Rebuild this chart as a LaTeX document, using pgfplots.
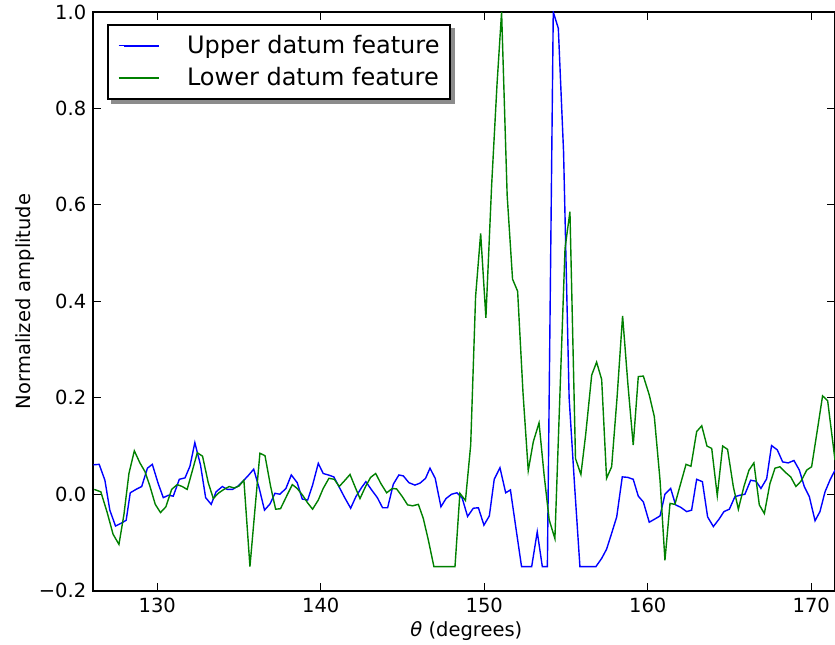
\documentclass[border=0pt]{standalone}
\usepackage{fontspec}
\setmainfont{DejaVu Sans}
\usepackage{pgfplots}
\pgfplotsset{compat=1.18}
\usetikzlibrary{backgrounds}
\definecolor{mplblue}{RGB}{0,0,255}
\definecolor{mplgreen}{RGB}{0,128,0}
\begin{document}
\begin{tikzpicture}
\begin{axis}[
  scale only axis,
  width=370.85pt, height=289.35pt,
  xmin=126.09, xmax=171.45,
  ymin=-0.2, ymax=1.0,
  xtick={130,140,150,160,170},
  xticklabels={130,140,150,160,170},
  ytick={-0.2,0,0.2,0.4,0.6,0.8,1.0},
  yticklabels={−0.2,0.0,0.2,0.4,0.6,0.8,1.0},
  tick align=inside,
  major tick length=3.85pt,
  every tick/.style={black, line width=0.5pt},
  axis line style={line width=1pt},
  tick label style={font=\fontsize{9.75}{11}\selectfont},
  label style={font=\fontsize{9.75}{11}\selectfont},
  xlabel={{\itshape θ} (degrees)},
  ylabel={Normalized amplitude},
  xlabel style={at={(axis description cs:0.503,-0.0693)},anchor=center},
  ylabel style={at={(axis description cs:-0.0917,0.5)},anchor=center},
  legend cell align=left,
  legend image code/.code={\path (0pt,0pt) -- (2.65pt,0pt); \draw[#1, line width=1pt, line cap=butt] (2.65pt,0pt) -- (20.35pt,0pt);},
  legend style={name=leg, at={(axis description cs:0.0185,0.979)}, anchor=north west,
    draw=black, line width=1pt, fill=white,
    font=\fontsize{12}{14}\selectfont,
    inner xsep=5pt, inner ysep=5pt, row sep=5.5pt, column sep=13.3pt,
    nodes={inner sep=0pt}},
]
\addplot[mplblue, line width=0.7pt] coordinates {
(126.09,0.061) (126.45,0.062) (126.80,0.029) (127.10,-0.033) (127.45,-0.066)
(127.80,-0.060) (128.10,-0.054) (128.35,0.003) (128.70,0.010) (129.05,0.016)
(129.40,0.054) (129.70,0.062) (130.06,0.022) (130.37,-0.007) (130.70,-0.002)
(130.98,-0.004) (131.35,0.031) (131.70,0.034) (132.00,0.058) (132.30,0.107)
(132.65,0.060) (132.96,-0.007) (133.30,-0.021) (133.60,0.005) (133.98,0.016)
(134.28,0.010) (134.60,0.010) (134.95,0.017) (135.30,0.029) (135.60,0.040)
(135.90,0.052) (136.24,0.012) (136.56,-0.033) (136.90,-0.020) (137.20,0.002)
(137.50,0.000) (137.87,0.012) (138.20,0.040) (138.56,0.024) (138.87,-0.010)
(139.20,-0.012) (139.50,0.019) (139.85,0.064) (140.15,0.043) (140.46,0.040)
(140.80,0.036) (141.11,0.016) (141.48,-0.008) (141.83,-0.029) (142.15,-0.005)
(142.50,0.014) (142.76,0.026) (143.11,0.009) (143.46,-0.007) (143.78,-0.028)
(144.09,-0.028) (144.44,0.021) (144.78,0.040) (145.05,0.038) (145.39,0.024)
(145.76,0.019) (146.07,0.023) (146.41,0.033) (146.68,0.054) (147.00,0.033)
(147.35,-0.026) (147.66,-0.009) (148.00,0.000) (148.33,0.003) (148.65,-0.008)
(148.98,-0.046) (149.33,-0.029) (149.64,-0.028) (149.98,-0.064) (150.31,-0.045)
(150.61,0.031) (150.96,0.055) (151.31,0.003) (151.60,0.009) (151.94,-0.071)
(152.28,-0.150) (152.60,-0.150) (152.90,-0.150) (153.24,-0.078) (153.55,-0.150)
(153.86,-0.150) (154.22,1.000) (154.53,0.966) (154.85,0.710) (155.19,0.200)
(155.52,0.020) (155.85,-0.150) (156.18,-0.150) (156.50,-0.150) (156.83,-0.150)
(157.18,-0.133) (157.48,-0.114) (157.79,-0.081) (158.10,-0.047) (158.44,0.036)
(158.77,0.035) (159.11,0.031) (159.42,-0.004) (159.73,-0.016) (160.09,-0.058)
(160.40,-0.052) (160.75,-0.045) (161.05,0.000) (161.40,0.012) (161.70,-0.022)
(162.01,-0.027) (162.38,-0.036) (162.68,-0.033) (162.99,0.031) (163.34,0.026)
(163.66,-0.047) (164.01,-0.067) (164.35,-0.052) (164.66,-0.036) (164.99,-0.031)
(165.33,-0.005) (165.64,-0.002) (165.94,0.000) (166.29,0.029) (166.62,0.027)
(166.92,0.012) (167.27,0.032) (167.57,0.101) (167.92,0.092) (168.25,0.067)
(168.59,0.065) (168.94,0.070) (169.27,0.050) (169.57,0.016) (169.88,-0.005)
(170.23,-0.055) (170.53,-0.036) (170.84,0.005) (171.15,0.030) (171.45,0.050)
};
\addlegendentry{Upper datum feature}
\addplot[mplgreen, line width=0.7pt] coordinates {
(126.15,0.010) (126.55,0.005) (126.94,-0.038) (127.30,-0.083) (127.66,-0.104)
(127.96,-0.043) (128.27,0.043) (128.60,0.090) (128.94,0.065) (129.25,0.047)
(129.55,0.017) (129.88,-0.021) (130.20,-0.038) (130.53,-0.026) (130.88,0.010)
(131.22,0.020) (131.53,0.016) (131.83,0.010) (132.10,0.043) (132.45,0.086)
(132.77,0.079) (133.12,0.024) (133.43,-0.009) (133.73,0.002) (134.08,0.010)
(134.40,0.016) (134.70,0.013) (135.00,0.017) (135.30,0.029) (135.67,-0.150)
(135.98,-0.030) (136.28,0.085) (136.59,0.080) (136.93,0.017) (137.24,-0.031)
(137.54,-0.030) (137.91,-0.004) (138.26,0.020) (138.56,0.012) (138.89,-0.002)
(139.20,-0.018) (139.50,-0.031) (139.85,-0.012) (140.15,0.012) (140.50,0.033)
(140.83,0.031) (141.13,0.016) (141.48,0.029) (141.79,0.041) (142.09,0.016)
(142.40,-0.009) (142.74,0.016) (143.05,0.035) (143.36,0.043) (143.68,0.022)
(144.03,0.003) (144.38,0.012) (144.64,0.011) (144.99,-0.005) (145.31,-0.022)
(145.62,-0.024) (145.97,-0.021) (146.27,-0.050) (146.58,-0.095) (146.92,-0.150)
(147.25,-0.150) (147.58,-0.150) (147.90,-0.150) (148.21,-0.150) (148.51,0.002)
(148.85,-0.013) (149.17,0.102) (149.47,0.410) (149.78,0.541) (150.10,0.366)
(150.45,0.640) (150.78,0.850) (151.06,1.000) (151.40,0.620) (151.73,0.446)
(152.04,0.421) (152.37,0.210) (152.69,0.049) (153.00,0.109) (153.35,0.148)
(153.66,0.040) (153.97,-0.053) (154.32,-0.092) (154.63,0.210) (154.94,0.510)
(155.24,0.586) (155.58,0.074) (155.91,0.041) (156.20,0.123) (156.57,0.247)
(156.87,0.274) (157.18,0.238) (157.48,0.033) (157.79,0.057) (158.12,0.200)
(158.46,0.370) (158.78,0.230) (159.11,0.102) (159.42,0.244) (159.73,0.245)
(160.09,0.206) (160.40,0.161) (160.75,0.029) (161.05,-0.137) (161.36,-0.019)
(161.66,-0.021) (162.01,0.022) (162.34,0.062) (162.64,0.058) (162.99,0.130)
(163.30,0.142) (163.62,0.100) (163.91,0.095) (164.25,-0.003) (164.58,0.100)
(164.88,0.093) (165.23,0.016) (165.54,-0.031) (165.88,0.016) (166.19,0.050)
(166.49,0.065) (166.82,-0.022) (167.13,-0.040) (167.47,0.022) (167.78,0.054)
(168.08,0.057) (168.43,0.045) (168.74,0.036) (169.06,0.016) (169.37,0.027)
(169.72,0.050) (170.02,0.057) (170.37,0.133) (170.69,0.204) (171.00,0.194)
(171.45,0.071)
};
\addlegendentry{Lower datum feature}
\end{axis}
\begin{pgfonlayer}{background}
\fill[black!45] ([xshift=2pt,yshift=-2pt]leg.south west) rectangle ([xshift=2pt,yshift=-2pt]leg.north east);
\end{pgfonlayer}
\pgfresetboundingbox
\useasboundingbox ([xshift=-46.65pt,yshift=-27.15pt]current axis.south west) rectangle ([yshift=6pt]current axis.north east);
\end{tikzpicture}
\end{document}
